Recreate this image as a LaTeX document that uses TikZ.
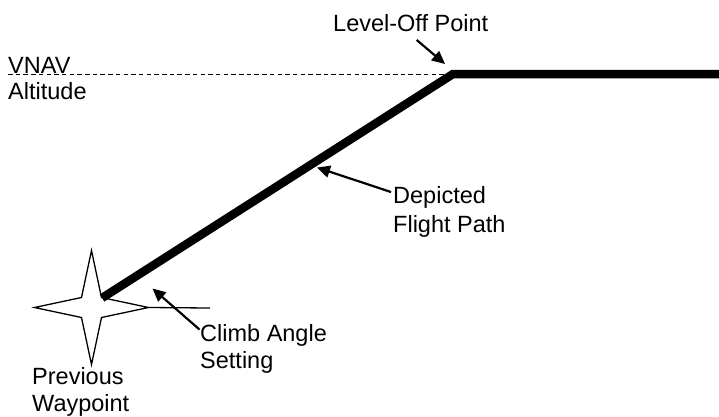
\documentclass[tikz,border=0pt]{standalone}
\usepackage{fontspec}
\setmainfont{Liberation Sans}
\usetikzlibrary{arrows.meta}
\begin{document}
\begin{tikzpicture}[x=1pt,y=-1pt,
  lbl/.style={inner sep=0pt,anchor=base west,align=left,font=\fontsize{23.5}{27}\selectfont},
  path/.style={line width=8.5pt,line join=miter},
  pointer/.style={line width=2.2pt,-{Triangle[length=13pt,width=12pt]}},
  thin/.style={line width=1.3pt}]
\useasboundingbox (0,0) rectangle (719,416);
% coordinates
\coordinate (wp) at (91.5,307.5);
\coordinate (start) at (102,298);
\coordinate (lo) at (453,74);
\coordinate (east) at (719,74);
\coordinate (dashW) at (8,74);
\coordinate (ref) at (210,308);
% dashed altitude line
\draw[line width=1pt,dash pattern=on 4.5pt off 3.2pt] (dashW) -- (lo);
% star waypoint
\draw[thin,fill=white,line join=miter]
  (91.5,250.5) -- (101.5,297.5) -- (148.5,307.5) -- (101.5,317.5) --
  (91.5,364.5) -- (81.5,317.5) -- (34.5,307.5) -- (81.5,297.5) -- cycle;
\coordinate (starE) at (148.5,307.5);
\draw[thin] (starE) -- (ref);
% flight path
\draw[path] (start) -- (lo) -- (east);
% labels (anchored at the baseline of the last line)
\node[lbl,font=\fontsize{23.5}{25.5}\selectfont] (vnav) at (8,99) {VNAV\\Altitude};
\node[lbl] (lvl) at (333,31) {Level-Off Point};
\node[lbl,font=\fontsize{23.5}{28.7}\selectfont] (dep) at (393,232) {Depicted\\Flight Path};
\node[lbl] (climb) at (200,368.5) {Climb Angle\\Setting};
\node[lbl] (prev) at (32,411.5) {Previous\\Waypoint};
% pointers
\coordinate (lvlT) at (416.7,40);
\coordinate (lvlH) at (445,64);
\draw[pointer] (lvlT) -- (lvlH);
\coordinate (depT) at (391,192);
\coordinate (depH) at (317,167.5);
\draw[pointer] (depT) -- (depH);
\coordinate (clT) at (199.5,329.5);
\coordinate (clH) at (152.5,288.5);
\draw[pointer] (clT) -- (clH);
\end{tikzpicture}
\end{document}
